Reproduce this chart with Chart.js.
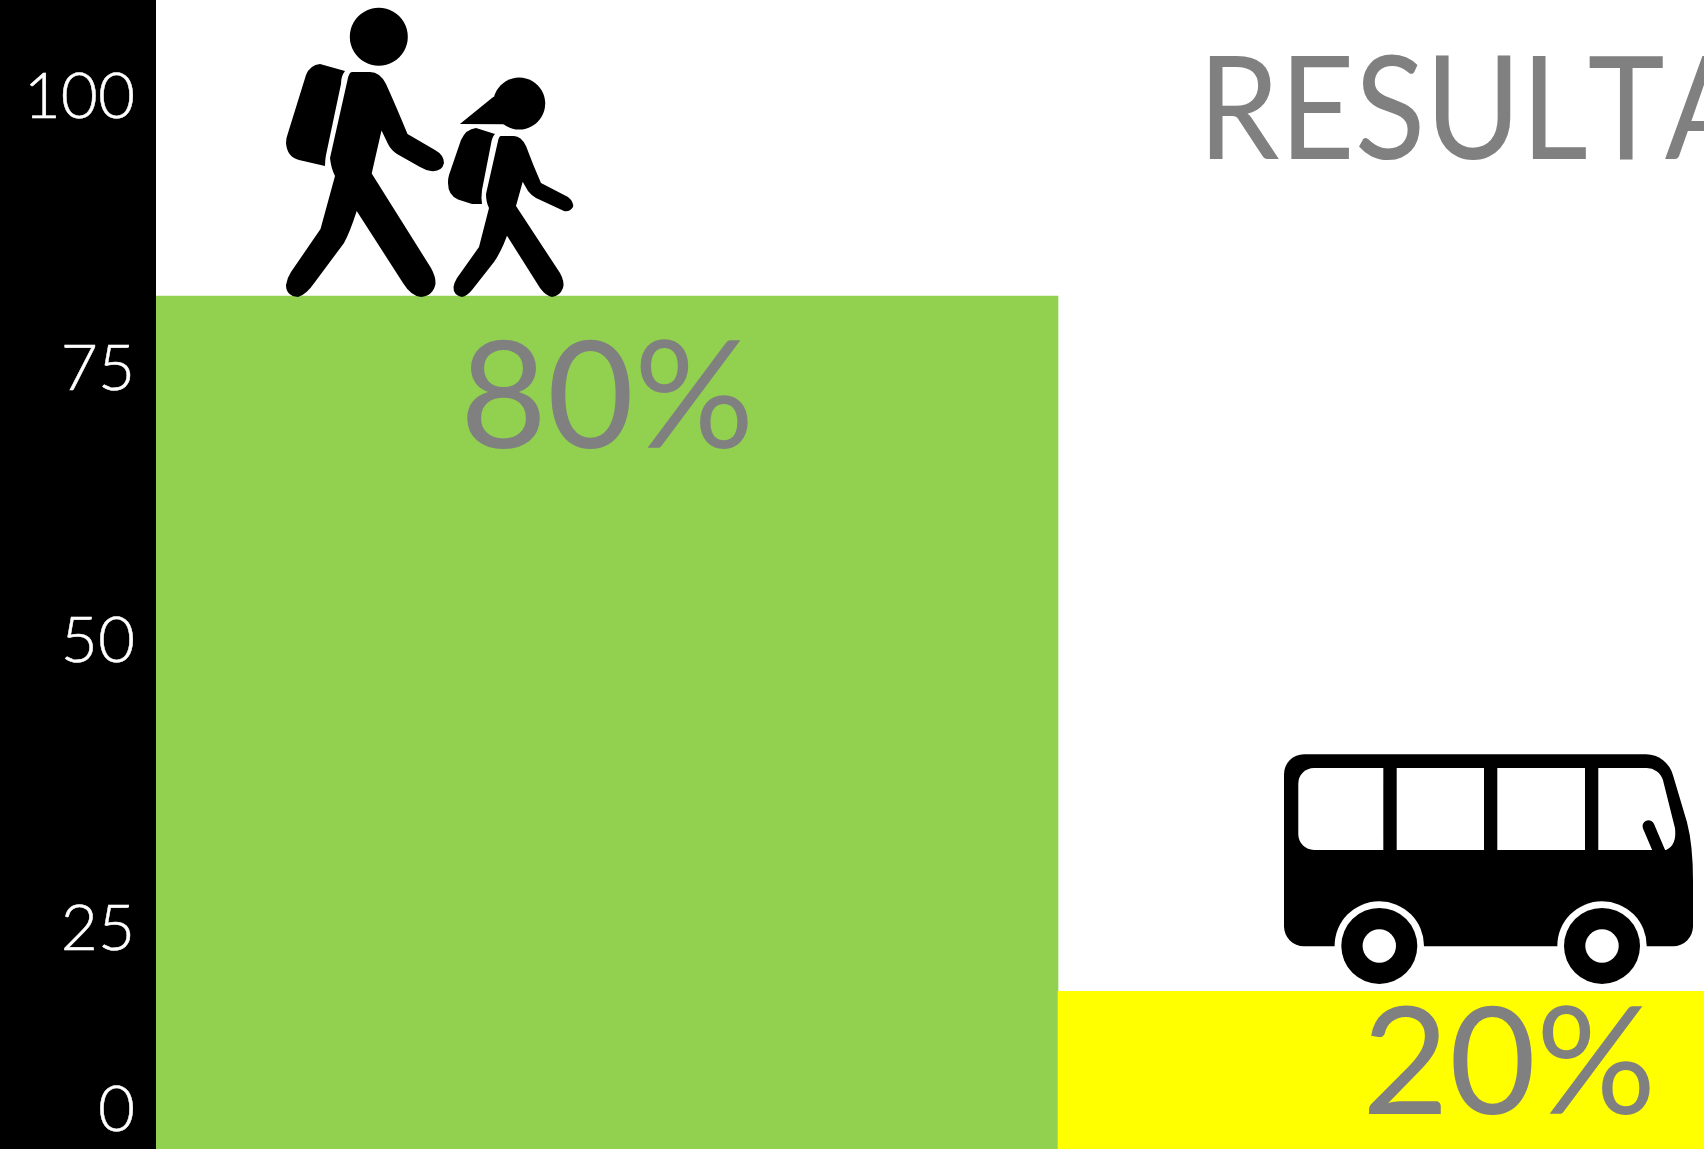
<!DOCTYPE html>
<html><head><meta charset="utf-8">
<style>html,body{margin:0;padding:0;background:#fff;overflow:hidden;width:1704px;height:1149px}canvas{display:block}</style>
<script src="https://cdn.jsdelivr.net/npm/chart.js@4"></script>
</head><body><canvas id="c" width="1960" height="1223"></canvas>
<script>
// ---- data ----
const categories = ['A pie', 'En autobús'];
const seriesValues = [80, 20];
const barColors = ['#92D050', '#FFFF00'];
const yTicks = [0, 25, 50, 75, 100];
const chartTitle = 'RESULTADOS';
// ---- layout (not data) ----
const tickLabelCentres = {0: 1110, 25: 929, 50: 641, 75: 369, 100: 97};
const valueLabelDrop = [152, 123];
const FONT = 'Lato';
const GREY = '#808080';

class PlacedTickScale extends Chart.LinearScale {
  static id = 'placedTicks';
  static defaults = Chart.LinearScale.defaults;
  getPixelForTick(i) { return tickLabelCentres[this.ticks[i].value]; }
}
Chart.register(PlacedTickScale);

const hikerShapes = [
  'M378.8 7.7a29 29 0 1 0 .01 0Z',
  'M352 72H370Q380 72 386 84Q396 106 407.5 134L435 150Q444 155 444 163Q442 172 431 171Q425 170 420 167L397 154Q391 150 388 144L381.5 130.5L371.7 173.5L431 268Q436 277 435.5 284Q433 296 421 297Q411 296 403 283L356.7 211Q350 232 344 243L315 282Q306 295 298 297Q286 296 286 285Q287 278 291 272L320.5 229L335 176Q331 168 330 158L347.5 80Q349 72 352 72Z',
  'M320 64L345 71Q341 76 341 84L326 155Q325 160 325 166L299 160Q287 157 286 143Q286 138 288 133L306 75Q310 65 320 64Z',
  'M519.2 77.5a26 26 0 1 0 .01 0Z',
  'M493.5 96.7L459.9 124L504 124.3L519 110Z',
  'M501 136H514Q521 136 526 146Q533 165 541 183L568 197Q574 202 573 207Q570 212 564 211L536 198Q531 195 528 191L522.7 181.7L516 206L560 273Q565 282 563 288Q560 296 552 297Q546 296 540 288L507 235.7Q501 252 494 262L472 290Q467 296 462 297Q453 295 453.5 287Q454 283 457 278L479 247L489 208Q486 202 486 194L498 141Q499 136 501 136Z',
  'M476 128L495 134Q492 137 491 144L482 190Q481 198 482 204L472 204L458 199.5Q448 195 448 183Q448 178 449 175L461 140Q466 129 476 128Z'
];

function drawHikers(ctx) {
  ctx.fillStyle = '#000';
  hikerShapes.forEach(d => ctx.fill(new Path2D(d)));
}

function drawBus(ctx) {
  ctx.fillStyle = '#000';
  ctx.fill(new Path2D('M1304 754H1646A28 28 0 0 1 1673 775L1687 822Q1693 845 1693 880V926A20 20 0 0 1 1673 946H1304A20 20 0 0 1 1284 926V774A20 20 0 0 1 1304 754Z'));
  ctx.fillStyle = '#fff';
  ctx.fill(new Path2D('M1314 767.7H1383.3V849.7H1314A15.7 15.7 0 0 1 1298.3 834V783.4A15.7 15.7 0 0 1 1314 767.7Z'));
  ctx.fill(new Path2D('M1396.7 767.7H1484V849.7H1396.7Z'));
  ctx.fill(new Path2D('M1497.3 767.7H1585V849.7H1497.3Z'));
  ctx.fill(new Path2D('M1598.3 767.7H1646A17 17 0 0 1 1663 780L1675 828Q1677 845 1666 849.7H1598.3Z'));
  ctx.lineCap = 'round'; ctx.strokeStyle = '#000'; ctx.lineWidth = 12;
  ctx.beginPath(); ctx.moveTo(1648.5, 826); ctx.lineTo(1660, 853); ctx.stroke();
  [[1379.3, 945.7], [1602, 945.7]].forEach(c => {
    ctx.fillStyle = '#fff'; ctx.beginPath(); ctx.arc(c[0], c[1], 44.7, 0, 7); ctx.fill();
    ctx.fillStyle = '#000'; ctx.beginPath(); ctx.arc(c[0], c[1], 38, 0, 7); ctx.fill();
    ctx.fillStyle = '#fff'; ctx.beginPath(); ctx.arc(c[0], c[1], 16.7, 0, 7); ctx.fill();
  });
}

const overlay = {
  id: 'overlay',
  afterDatasetsDraw(chart) {
    const ctx = chart.ctx;
    const bars = chart.getDatasetMeta(0).data;
    ctx.save();
    ctx.fillStyle = GREY;
    ctx.font = '400 150px ' + FONT;
    ctx.textAlign = 'center'; ctx.textBaseline = 'alphabetic';
    bars.forEach((b, i) => ctx.fillText(seriesValues[i] + '%', b.x, b.y + valueLabelDrop[i]));
    ctx.textAlign = 'left';
    ctx.font = '400 143px ' + FONT;
    ctx.fontKerning = 'none';
    ctx.translate(1198, 159);
    ctx.scale(0.91, 1);
    ctx.fillText(chartTitle, 0, 0);
    ctx.restore();
    ctx.save(); ctx.translate(bars[0].x - 607, bars[0].y - 296); drawHikers(ctx); ctx.restore();
    ctx.save(); ctx.translate(bars[1].x - 1509, bars[1].y - 991); drawBus(ctx); ctx.restore();
  }
};

new Chart(document.getElementById('c'), {
  type: 'bar',
  data: { labels: categories, datasets: [{ data: seriesValues, backgroundColor: barColors, borderWidth: 0, categoryPercentage: 1, barPercentage: 1 }] },
  plugins: [overlay],
  options: {
    responsive: false, animation: false,
    layout: { padding: 0 },
    plugins: { legend: { display: false }, tooltip: { enabled: false } },
    scales: {
      x: { display: false },
      y: {
        type: 'placedTicks', min: 0, max: 105.55, backgroundColor: '#000',
        grid: { display: false }, border: { display: false },
        afterFit(a) { a.width = 156; a.paddingTop = 0; a.paddingBottom = 0; },
        afterBuildTicks(a) { a.ticks = yTicks.map(v => ({ value: v })); },
        ticks: { color: '#fff', padding: 13, textStrokeColor: '#fff', textStrokeWidth: 0.5, font: { family: FONT, size: 64, weight: '300' } }
      }
    }
  }
});
</script></body></html>
